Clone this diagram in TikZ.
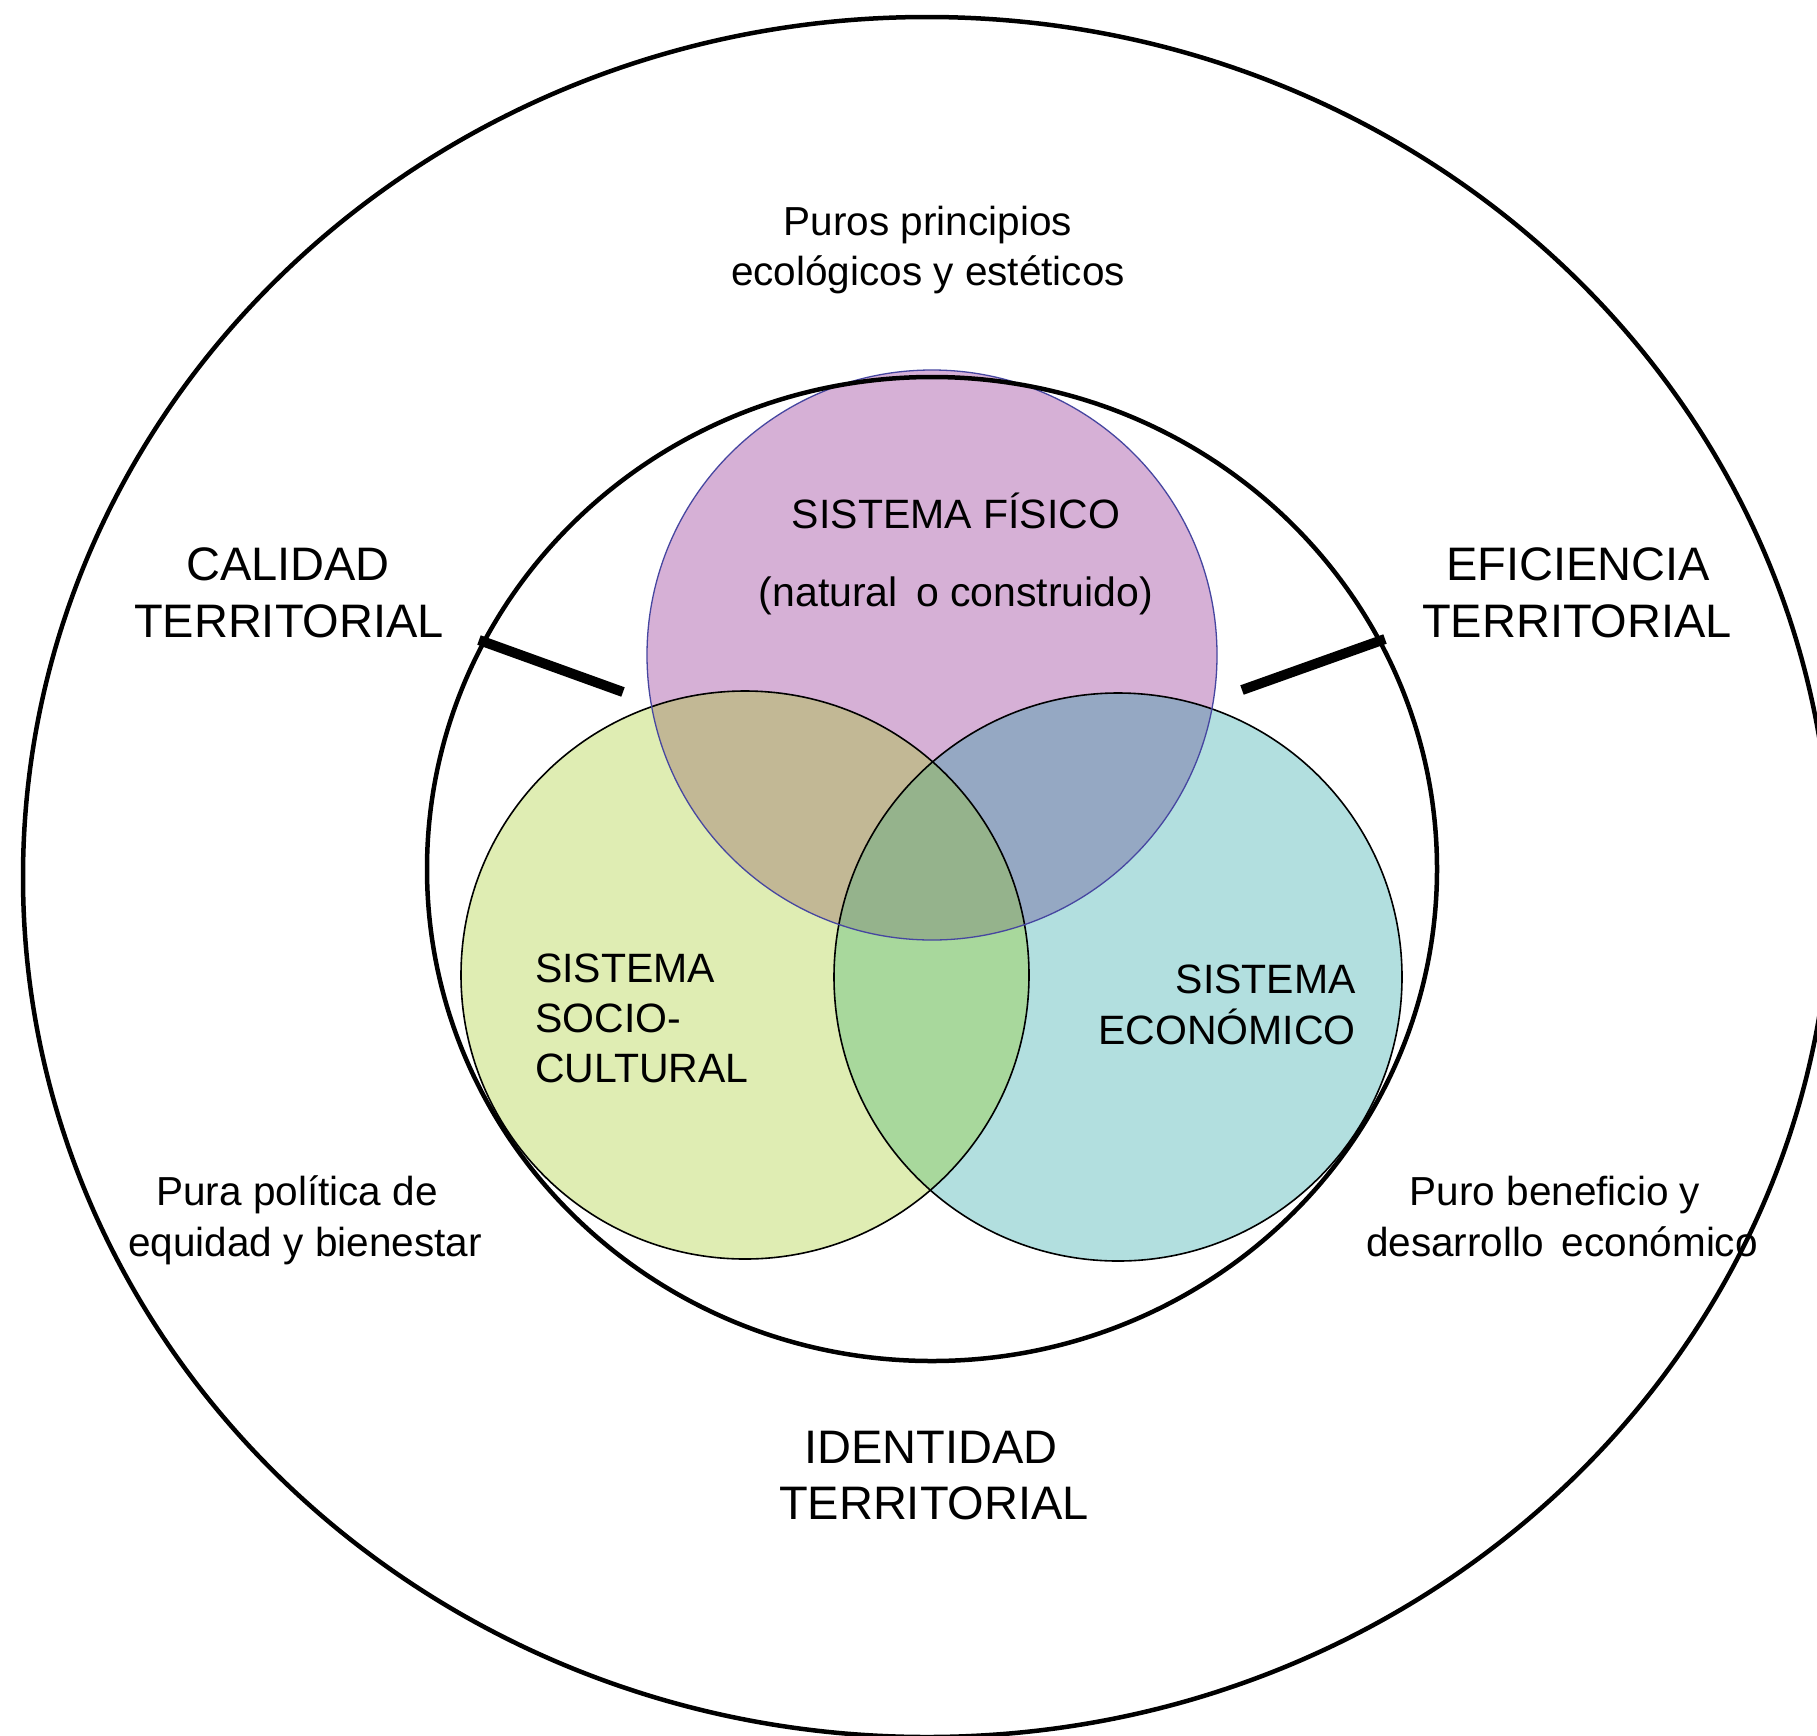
\documentclass[tikz,border=0pt]{standalone}
\usepackage{fontspec}
\setmainfont{Liberation Sans}
\definecolor{cPurple}{RGB}{214,176,214}
\definecolor{cGreen}{RGB}{223,237,179}
\definecolor{cCyan}{RGB}{178,223,223}
\definecolor{cPG}{RGB}{194,184,149}
\definecolor{cPC}{RGB}{149,168,195}
\definecolor{cGC}{RGB}{168,216,156}
\definecolor{cPGC}{RGB}{149,179,140}
\definecolor{cPline}{RGB}{70,70,160}
\tikzset{
  hdr/.style={font=\fontsize{47}{57}\selectfont, anchor=base, inner sep=0pt},
  sm/.style={font=\fontsize{40.5}{50}\selectfont, anchor=base, inner sep=0pt},
  sys/.style={font=\fontsize{41}{50}\selectfont, inner sep=0pt},
  thickconn/.style={line width=10pt},
  ring/.style={draw=black, line width=4.5pt},
  vennline/.style={draw=black, line width=1.6pt},
}
\begin{document}
\begin{tikzpicture}[x=1pt,y=-1pt]
\useasboundingbox (0,0) rectangle (1817,1735);
\fill[white] (0,0) rectangle (1817,1735);
% Venn fills
\fill[cPurple] (932,655) circle[radius=285pt];
\fill[cGreen] (745,975) circle[radius=284pt];
\fill[cCyan] (1118,977) circle[radius=284pt];
\begin{scope}
  \clip (932,655) circle[radius=285pt];
  \fill[cPG] (745,975) circle[radius=284pt];
\end{scope}
\begin{scope}
  \clip (932,655) circle[radius=285pt];
  \fill[cPC] (1118,977) circle[radius=284pt];
\end{scope}
\begin{scope}
  \clip (745,975) circle[radius=284pt];
  \fill[cGC] (1118,977) circle[radius=284pt];
\end{scope}
\begin{scope}
  \clip (932,655) circle[radius=285pt];
  \clip (745,975) circle[radius=284pt];
  \fill[cPGC] (1118,977) circle[radius=284pt];
\end{scope}
% Venn outlines
\draw[vennline] (745,975) circle[radius=284pt];
\draw[vennline] (1118,977) circle[radius=284pt];
\draw[draw=cPline, line width=1.3pt] (932,655) circle[radius=285pt];
% rings
\draw[ring] (932,869) ellipse[x radius=505pt, y radius=492pt];
\draw[draw=black, line width=4.5pt] (927,877) ellipse[x radius=904pt, y radius=860pt];
% connectors
\coordinate (calA) at (479,640);
\coordinate (calB) at (623,692);
\coordinate (efiA) at (1385,639);
\coordinate (efiB) at (1242,690);
\draw[thickconn] (calA) -- (calB);
\draw[thickconn] (efiA) -- (efiB);
% texts
\node[sm] (pur1) at (928,235) {Puros principios};
\node[sm] (pur2) at (928,285) {ecológicos y estéticos};
\node[hdr] (cal1) at (288,580) {CALIDAD};
\node[hdr] (cal2) at (289,637) {TERRITORIAL};
\node[hdr] (efi1) at (1578,580) {EFICIENCIA};
\node[hdr] (efi2) at (1577,637) {TERRITORIAL};
\node[sys, anchor=base] (fis1) at (956,528) {SISTEMA FÍSICO};
\node[sys, anchor=base] (fis2) at (956,606) {(natural\, o construido)};
\node[sys, anchor=base west] (soc1) at (535,982) {SISTEMA};
\node[sys, anchor=base west] (soc2) at (535,1032) {SOCIO-};
\node[sys, anchor=base west] (soc3) at (535,1082) {CULTURAL};
\node[sys, anchor=base east] (eco1) at (1356,993) {SISTEMA};
\node[sys, anchor=base east] (eco2) at (1356,1044) {ECONÓMICO};
\node[sm] (pol1) at (297,1205) {Pura política de};
\node[sm] (pol2) at (305,1256) {equidad y bienestar};
\node[sm] (ben1) at (1555,1205) {Puro beneficio y};
\node[sm] (ben2) at (1562,1256) {desarrollo\, económico};
\node[hdr] (ide1) at (931,1463) {IDENTIDAD};
\node[hdr] (ide2) at (934,1519) {TERRITORIAL};
\end{tikzpicture}
\end{document}
